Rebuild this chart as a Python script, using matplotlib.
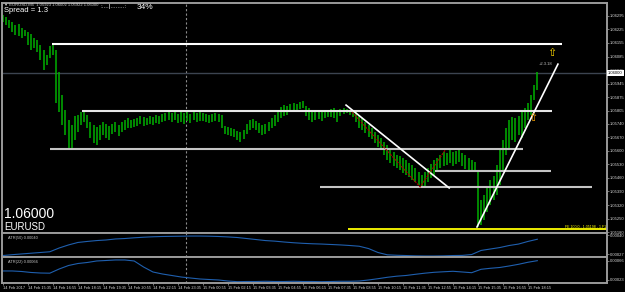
import numpy as np
import matplotlib
matplotlib.use("Agg")
import matplotlib.pyplot as plt

plt.rcParams['font.family'] = ['Liberation Sans', 'DejaVu Sans']

# EURUSD bars (10 min steps from 14 Feb 14:15)
bar_step = 10
highs = [1.06299, 1.06288, 1.06273, 1.06263, 1.06247, 1.06252, 1.06232, 1.06221, 1.06211, 1.06201,
         1.06180, 1.06170, 1.06144, 1.06118, 1.06093, 1.06139, 1.06149, 1.06118, 1.06005, 1.05887,
         1.05809, 1.05758, 1.05732, 1.05779, 1.05784, 1.05799, 1.05804, 1.05784, 1.05748, 1.05732,
         1.05722, 1.05732, 1.05748, 1.05737, 1.05727, 1.05737, 1.05748, 1.05732, 1.05748, 1.05758,
         1.05768, 1.05758, 1.05763, 1.05768, 1.05779, 1.05773, 1.05768, 1.05779, 1.05773, 1.05784,
         1.05779, 1.05789, 1.05794, 1.05809, 1.05794, 1.05799, 1.05789, 1.05799, 1.05794, 1.05799,
         1.05789, 1.05799, 1.05794, 1.05799, 1.05794, 1.05789, 1.05784, 1.05789, 1.05794, 1.05789,
         1.05784, 1.05727, 1.05722, 1.05717, 1.05712, 1.05701, 1.05696, 1.05706, 1.05737, 1.05758,
         1.05763, 1.05753, 1.05743, 1.05732, 1.05737, 1.05748, 1.05768, 1.05784, 1.05799, 1.05825,
         1.05835, 1.05830, 1.05840, 1.05846, 1.05840, 1.05851, 1.05856, 1.05830, 1.05820, 1.05809,
         1.05799, 1.05809, 1.05799, 1.05804, 1.05809, 1.05815, 1.05820, 1.05809, 1.05815, 1.05820,
         1.05815, 1.05809, 1.05809, 1.05799, 1.05784, 1.05768, 1.05748, 1.05732, 1.05717, 1.05696,
         1.05681, 1.05665, 1.05645, 1.05629, 1.05614, 1.05593, 1.05578, 1.05573, 1.05562, 1.05552,
         1.05537, 1.05526, 1.05511, 1.05490, 1.05475, 1.05490, 1.05511, 1.05531, 1.05552, 1.05562,
         1.05578, 1.05593, 1.05588, 1.05603, 1.05593, 1.05598, 1.05603, 1.05588, 1.05578, 1.05562,
         1.05552, 1.05542, 1.05500, 1.05346, 1.05372, 1.05408, 1.05449, 1.05470, 1.05526, 1.05603,
         1.05655, 1.05717, 1.05758, 1.05773, 1.05768, 1.05779, 1.05799, 1.05820, 1.05846, 1.05887,
         1.05938, 1.06005]
lows = [1.06263, 1.06247, 1.06232, 1.06211, 1.06196, 1.06191, 1.06180, 1.06191, 1.06144, 1.06118,
        1.06129, 1.06108, 1.06067, 1.06015, 1.06041, 1.06077, 1.06093, 1.05846, 1.05799, 1.05732,
        1.05681, 1.05614, 1.05603, 1.05655, 1.05696, 1.05732, 1.05748, 1.05717, 1.05665, 1.05640,
        1.05629, 1.05655, 1.05681, 1.05665, 1.05655, 1.05686, 1.05696, 1.05676, 1.05696, 1.05706,
        1.05717, 1.05717, 1.05722, 1.05727, 1.05737, 1.05727, 1.05732, 1.05737, 1.05732, 1.05743,
        1.05737, 1.05748, 1.05753, 1.05758, 1.05748, 1.05758, 1.05743, 1.05748, 1.05737, 1.05753,
        1.05743, 1.05758, 1.05748, 1.05753, 1.05753, 1.05748, 1.05743, 1.05748, 1.05753, 1.05748,
        1.05717, 1.05686, 1.05681, 1.05676, 1.05670, 1.05655, 1.05645, 1.05660, 1.05686, 1.05706,
        1.05717, 1.05706, 1.05691, 1.05681, 1.05686, 1.05701, 1.05717, 1.05727, 1.05748, 1.05768,
        1.05779, 1.05784, 1.05799, 1.05809, 1.05809, 1.05815, 1.05820, 1.05779, 1.05758, 1.05748,
        1.05758, 1.05763, 1.05753, 1.05768, 1.05773, 1.05773, 1.05768, 1.05748, 1.05779, 1.05789,
        1.05794, 1.05784, 1.05773, 1.05748, 1.05717, 1.05706, 1.05691, 1.05670, 1.05660, 1.05640,
        1.05619, 1.05603, 1.05578, 1.05552, 1.05537, 1.05521, 1.05511, 1.05500, 1.05485, 1.05475,
        1.05464, 1.05449, 1.05439, 1.05423, 1.05413, 1.05418, 1.05439, 1.05459, 1.05475, 1.05490,
        1.05511, 1.05521, 1.05526, 1.05537, 1.05521, 1.05531, 1.05542, 1.05521, 1.05506, 1.05500,
        1.05490, 1.05495, 1.05207, 1.05217, 1.05243, 1.05284, 1.05320, 1.05346, 1.05372, 1.05423,
        1.05500, 1.05578, 1.05614, 1.05655, 1.05645, 1.05681, 1.05665, 1.05717, 1.05758, 1.05784,
        1.05861, 1.05912]

# ATR indicators, sampled every 30 minutes
atr_step = 30
atr50 = [0.000260, 0.000266, 0.000271, 0.000276, 0.000281, 0.000286, 0.000312, 0.000333, 0.000350, 0.000357,
         0.000363, 0.000367, 0.000374, 0.000377, 0.000382, 0.000386, 0.000389, 0.000391, 0.000392, 0.000393,
         0.000394, 0.000394, 0.000393, 0.000391, 0.000388, 0.000384, 0.000377, 0.000370, 0.000363, 0.000359,
         0.000353, 0.000348, 0.000344, 0.000341, 0.000339, 0.000336, 0.000333, 0.000329, 0.000324, 0.000308,
         0.000281, 0.000265, 0.000262, 0.000260, 0.000258, 0.000257, 0.000257, 0.000258, 0.000260, 0.000261,
         0.000267, 0.000295, 0.000305, 0.000315, 0.000329, 0.000339, 0.000357, 0.000372]
atr22 = [0.000434, 0.000434, 0.000422, 0.000400, 0.000388, 0.000384, 0.000479, 0.000558, 0.000603, 0.000626,
         0.000660, 0.000671, 0.000683, 0.000683, 0.000660, 0.000524, 0.000411, 0.000366, 0.000332, 0.000298,
         0.000275, 0.000253, 0.000241, 0.000230, 0.000207, 0.000192, 0.000196, 0.000196, 0.000201, 0.000196,
         0.000196, 0.000201, 0.000196, 0.000196, 0.000192, 0.000196, 0.000201, 0.000201, 0.000207, 0.000230,
         0.000259, 0.000291, 0.000316, 0.000332, 0.000359, 0.000384, 0.000404, 0.000416, 0.000427, 0.000411,
         0.000395, 0.000472, 0.000495, 0.000513, 0.000547, 0.000585, 0.000631, 0.000667]

# drawn objects (minutes from 14 Feb 14:15, price)
level_prices = [1.06149, 1.05804, 1.05609, 1.05497, 1.05413]
level_start = [157, 253, 151, 1382, 1015]
level_end = [1789, 1757, 1664, 1754, 1885]
fe_price = 1.05197
fe_start = 1104
trend_down_t = [1098, 1428]
trend_down_p = [1.05835, 1.05408]
trend_up_t = [1517, 1776]
trend_up_p = [1.05207, 1.06046]
zigzag_t = [1117, 1335, 1415]
zigzag_p = [1.05799, 1.05413, 1.05603]
arrow_t = [1757, 1696]
arrow_p = [1.06103, 1.05768]
bid = 1.06000
day_sep = 585

price_ticks = [1.06295, 1.06225, 1.06155, 1.06085, 1.06015, 1.05945, 1.05875, 1.05805, 1.05740,
               1.05670, 1.05600, 1.05530, 1.05460, 1.05390, 1.05320, 1.05250, 1.05180]
atr50_ticks = [0.00040, 0.00027]
atr22_ticks = [0.00066, 0.00023]
time_labels = ["14 Feb 2017", "14 Feb 15:35", "14 Feb 16:55", "14 Feb 18:15", "14 Feb 19:35",
               "14 Feb 20:55", "14 Feb 22:15", "14 Feb 23:35", "15 Feb 00:55", "15 Feb 02:15",
               "15 Feb 03:35", "15 Feb 04:55", "15 Feb 06:15", "15 Feb 07:35", "15 Feb 08:55",
               "15 Feb 10:15", "15 Feb 11:35", "15 Feb 12:55", "15 Feb 14:15", "15 Feb 15:35",
               "15 Feb 16:55", "15 Feb 18:15"]
label_step = 80

W, H = 625, 292
bar_t = np.arange(len(highs)) * bar_step
atr_t = np.arange(len(atr50)) * atr_step
time_ticks = np.arange(len(time_labels)) * label_step
xlim = (-3, 1933)
tick_fs = 3.0


def px_rect(x0, y0, x1, y1):
    return [x0 / W, 1 - y1 / H, (x1 - x0) / W, (y1 - y0) / H]


fig = plt.figure(figsize=(W / 100, H / 100), dpi=100, facecolor="black")
ax = fig.add_axes(px_rect(2, 3, 607, 233))
ax1 = fig.add_axes(px_rect(2, 233, 607, 257))
ax2 = fig.add_axes(px_rect(2, 257, 607, 283))

for a in (ax, ax1, ax2):
    a.set_facecolor("black")
    a.set_xlim(*xlim)
    for s in a.spines.values():
        s.set_color("#9a9a9a")
        s.set_linewidth(1.4)
    a.yaxis.tick_right()
    a.tick_params(axis="y", colors="#8a8a8a", labelcolor="#d8d8d8", labelsize=tick_fs,
                  length=1.5, width=0.6, pad=0.8)
    a.axvline(day_sep, color="#8c8c8c", ls=(0, (2, 2)), lw=0.8)

ax.set_xticks([])
ax1.set_xticks([])

# main price panel
ax.set_ylim(1.05176, 1.06361)
ax.set_yticks(price_ticks)
ax.set_yticklabels([f"{p:.5f}" for p in price_ticks])
ax.axhline(bid, color="#3c4450", lw=1.0)
ax.vlines(bar_t, lows, highs, color="#00b000", lw=1.1)

ax.hlines(level_prices, level_start, level_end,
          colors=["white", "#e6e6e6", "#c4c4c4", "#c4c4c4", "#c4c4c4"], lw=1.5)
ax.hlines(fe_price, fe_start, xlim[1], color="#ffff00", lw=1.3)
ax.text(xlim[1] - 3, fe_price + 0.00002, "FE 100.0 - 1.05198 - 1.F1", color="#ffff00",
        fontsize=2.6, ha="right", va="bottom")
ax.plot(trend_down_t, trend_down_p, color="white", lw=1.2)
ax.plot(trend_up_t, trend_up_p, color="white", lw=1.2)
ax.plot(zigzag_t, zigzag_p, color="#b00000", lw=0.8, ls=(0, (2, 1)))
for t, p, c in zip(arrow_t, arrow_p, ["#ffd800", "#ffa500"]):
    ax.text(t, p, "\u21e7", color=c, fontsize=8, ha="center", va="center",
            family=["DejaVu Sans"])
ax.text(1735, 1.06036, "+2.3.18", color="#c0c0c0", fontsize=3.0, ha="center", va="bottom")

ax.text(1.002, bid, "1.06000", transform=ax.get_yaxis_transform(), fontsize=tick_fs,
        color="black", va="center", ha="left", clip_on=False, zorder=10,
        bbox=dict(fc="white", ec="none", pad=0.8))

# ATR panels
ax1.set_ylim(0.00025, 0.000415)
ax1.set_yticks(atr50_ticks)
ax1.set_yticklabels([f"{v:.5f}" for v in atr50_ticks])
ax1.plot(atr_t, atr50, color="#1f5fae", lw=0.8)
ax1.text(0.01, 0.8, "ATR(50) 0.00040", transform=ax1.transAxes, fontsize=2.8,
         color="#c8c8c8", va="center")

ax2.set_ylim(0.000162, 0.00075)
ax2.set_yticks(atr22_ticks)
ax2.set_yticklabels([f"{v:.5f}" for v in atr22_ticks])
ax2.plot(atr_t, atr22, color="#1f5fae", lw=0.8)
ax2.text(0.01, 0.81, "ATR(22) 0.00066", transform=ax2.transAxes, fontsize=2.8,
         color="#c8c8c8", va="center")
ax2.set_xticks(time_ticks)
ax2.set_xticklabels(time_labels)
ax2.tick_params(axis="x", colors="#8a8a8a", labelcolor="#d8d8d8", labelsize=2.8,
                length=1.5, width=0.6, pad=0.8)
for lab in ax2.get_xticklabels():
    lab.set_ha("left")

# overlay texts
fig.text(4 / W, 1 - 6 / H, "\u25bc EURUSD,M5  1.05923 1.06002 1.05922 1.06000",
         fontsize=3, color="#d0d0d0", va="baseline")
fig.text(4 / W, 1 - 12 / H, "Spread = 1.3", fontsize=5.5, color="white", va="baseline")
fig.text(100 / W, 1 - 8 / H, ":....|........:", fontsize=4.5, color="white", va="baseline")
fig.text(137 / W, 1 - 9 / H, "34%", fontsize=6, color="white", va="baseline")
fig.text(4 / W, 1 - 218 / H, "1.06000", fontsize=10, color="white", va="baseline")
fig.text(4 / W, 1 - 230 / H, "EURUSD", fontsize=7, color="white", va="baseline")

fig.savefig("out.png", dpi=100, facecolor="black")
